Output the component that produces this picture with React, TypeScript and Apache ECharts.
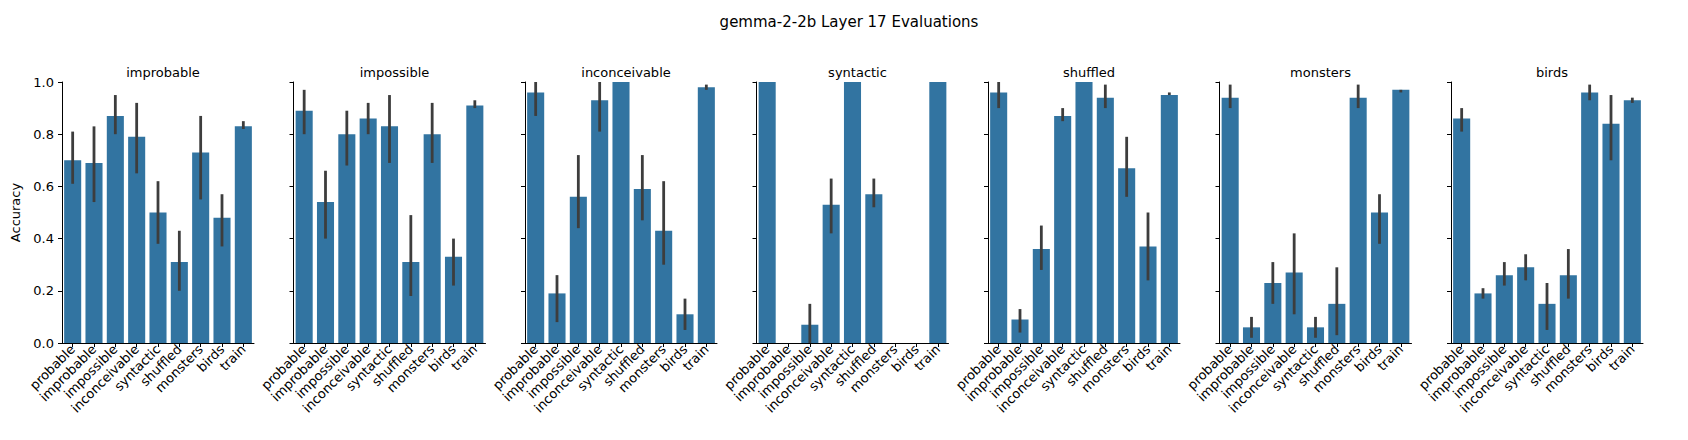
import { useEffect, useRef } from 'react';
import * as echarts from 'echarts';

const categories = ['probable', 'improbable', 'impossible', 'inconceivable', 'syntactic', 'shuffled', 'monsters', 'birds', 'train'];
const panels = ['improbable', 'impossible', 'inconceivable', 'syntactic', 'shuffled', 'monsters', 'birds'];

const meanImprobable = [0.70, 0.69, 0.87, 0.79, 0.50, 0.31, 0.73, 0.48, 0.83];
const loImprobable = [0.61, 0.54, 0.80, 0.65, 0.38, 0.20, 0.55, 0.37, 0.82];
const hiImprobable = [0.81, 0.83, 0.95, 0.92, 0.62, 0.43, 0.87, 0.57, 0.85];

const meanImpossible = [0.89, 0.54, 0.80, 0.86, 0.83, 0.31, 0.80, 0.33, 0.91];
const loImpossible = [0.80, 0.40, 0.68, 0.80, 0.69, 0.18, 0.69, 0.22, 0.90];
const hiImpossible = [0.97, 0.66, 0.89, 0.92, 0.95, 0.49, 0.92, 0.40, 0.93];

const meanInconceivable = [0.96, 0.19, 0.56, 0.93, 1.0, 0.59, 0.43, 0.11, 0.98];
const loInconceivable = [0.87, 0.08, 0.44, 0.81, 1.0, 0.47, 0.30, 0.05, 0.97];
const hiInconceivable = [1.0, 0.26, 0.72, 1.0, 1.0, 0.72, 0.62, 0.17, 0.99];

const meanSyntactic = [1.0, 0, 0.07, 0.53, 1.0, 0.57, 0, 0, 1.0];
const loSyntactic = [1.0, 0, 0.0, 0.42, 1.0, 0.52, 0, 0, 1.0];
const hiSyntactic = [1.0, 0, 0.15, 0.63, 1.0, 0.63, 0, 0, 1.0];

const meanShuffled = [0.96, 0.09, 0.36, 0.87, 1.0, 0.94, 0.67, 0.37, 0.95];
const loShuffled = [0.90, 0.04, 0.28, 0.85, 1.0, 0.90, 0.56, 0.24, 0.95];
const hiShuffled = [1.0, 0.13, 0.45, 0.90, 1.0, 0.99, 0.79, 0.50, 0.96];

const meanMonsters = [0.94, 0.06, 0.23, 0.27, 0.06, 0.15, 0.94, 0.50, 0.97];
const loMonsters = [0.90, 0.02, 0.15, 0.11, 0.02, 0.03, 0.90, 0.38, 0.96];
const hiMonsters = [0.99, 0.10, 0.31, 0.42, 0.10, 0.29, 0.99, 0.57, 0.97];

const meanBirds = [0.86, 0.19, 0.26, 0.29, 0.15, 0.26, 0.96, 0.84, 0.93];
const loBirds = [0.81, 0.17, 0.22, 0.24, 0.05, 0.17, 0.93, 0.70, 0.92];
const hiBirds = [0.90, 0.21, 0.31, 0.34, 0.23, 0.36, 0.99, 0.95, 0.94];

const means = [meanImprobable, meanImpossible, meanInconceivable, meanSyntactic, meanShuffled, meanMonsters, meanBirds];
const los = [loImprobable, loImpossible, loInconceivable, loSyntactic, loShuffled, loMonsters, loBirds];
const his = [hiImprobable, hiImpossible, hiInconceivable, hiSyntactic, hiShuffled, hiMonsters, hiBirds];

const PANEL_LEFT = 62;
const PANEL_STEP = 231.5;
const PANEL_WIDTH = 192;
const FONT = 'DejaVu Sans';

export default function App() {
  const ref = useRef<HTMLDivElement | null>(null);

  useEffect(() => {
    document.body.style.margin = '0';
    const el = ref.current;
    if (!el) return;
    const chart = echarts.init(el, undefined, { renderer: 'svg' });

    const axisLine = { show: true, lineStyle: { color: '#000', width: 1 } };
    const option: any = {
      animation: false,
      textStyle: { fontFamily: FONT },
      title: [
        {
          text: 'gemma-2-2b Layer 17 Evaluations',
          left: 844,
          top: 9,
          textAlign: 'center',
          textStyle: { fontSize: 15, fontWeight: 'normal', color: '#000', fontFamily: FONT },
        },
        ...panels.map((p, i) => ({
          text: p,
          left: PANEL_LEFT + i * PANEL_STEP + PANEL_WIDTH / 2,
          top: 61,
          textAlign: 'center',
          textStyle: { fontSize: 13, fontWeight: 'normal', color: '#000', fontFamily: FONT },
        })),
      ],
      grid: panels.map((_, i) => ({
        left: PANEL_LEFT + i * PANEL_STEP,
        width: PANEL_WIDTH,
        top: 82,
        bottom: 97,
      })),
      xAxis: panels.map((_, i) => ({
        type: 'category',
        gridIndex: i,
        data: categories,
        axisLine,
        axisTick: { show: true, alignWithLabel: true, length: 4, lineStyle: { color: '#000' } },
        axisLabel: { rotate: 45, interval: 0, fontSize: 13, color: '#000', margin: 4 },
      })),
      yAxis: panels.map((_, i) => ({
        type: 'value',
        gridIndex: i,
        min: 0,
        max: 1,
        interval: 0.2,
        name: i === 0 ? 'Accuracy' : '',
        nameLocation: 'middle',
        nameGap: 40,
        nameTextStyle: { fontSize: 13, color: '#000' },
        splitLine: { show: false },
        axisLine,
        axisTick: { show: true, length: 4, lineStyle: { color: '#000' } },
        axisLabel: {
          show: i === 0,
          fontSize: 13,
          color: '#000',
          formatter: (v: number) => v.toFixed(1),
        },
      })),
      series: [
        ...panels.map((_, i) => ({
          type: 'bar',
          xAxisIndex: i,
          yAxisIndex: i,
          data: means[i],
          barCategoryGap: '20%',
          itemStyle: { color: '#3274a1' },
        })),
        ...panels.map((_, i) => ({
          type: 'custom',
          xAxisIndex: i,
          yAxisIndex: i,
          data: categories.map((_, j) => [j, los[i][j], his[i][j]]),
          renderItem: (_p: any, api: any) => {
            const a = api.coord([api.value(0), api.value(1)]);
            const b = api.coord([api.value(0), api.value(2)]);
            return {
              type: 'line',
              shape: { x1: a[0], y1: a[1], x2: b[0], y2: b[1] },
              style: { stroke: '#3d3d3d', lineWidth: 2.8 },
            };
          },
          z: 5,
        })),
      ],
    };

    chart.setOption(option);
    return () => chart.dispose();
  }, []);

  return <div ref={ref} style={{ width: 1688, height: 440 }} />;
}
